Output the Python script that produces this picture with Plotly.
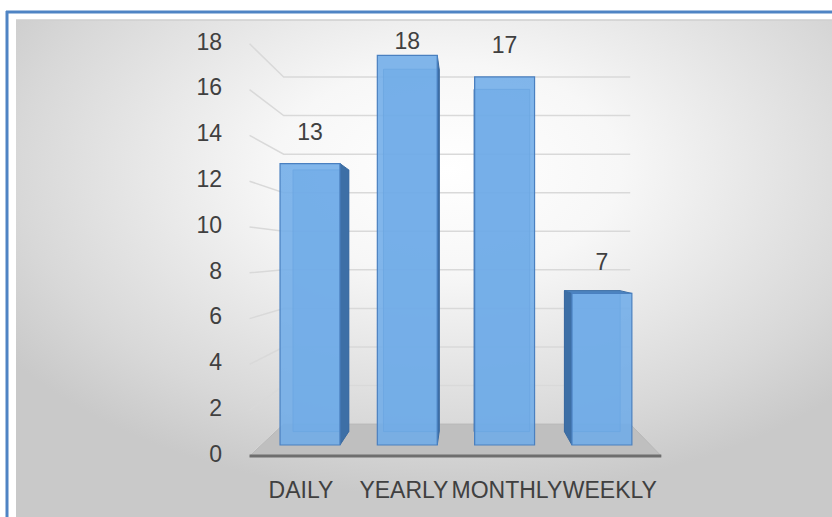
import base64
import plotly.graph_objects as go

# ---------------- data ----------------
categories = ["DAILY", "YEARLY", "MONTHLY", "WEEKLY"]
values = [13, 18, 17, 7]
tick_values = [0, 2, 4, 6, 8, 10, 12, 14, 16, 18]

# ---------------- geometry (style / layout constants) ----------------
W, H = 832, 517
X0, DX = 310.0, 97.3      # px of category 0 on the bar plane, px per category
Y0, DY = 445.0, 21.65     # px of value 0 on the bar plane, px per unit
VPX, VPY = 1.593, 8.82    # perspective centre (data units)
SF, SB, SBB = 1.058, 0.8905, 0.93   # front plane, back wall, bar back face scales
HW = 0.308                # half bar width (category units)
FONT = "Liberation Sans"
TXT = "#404040"


def proj(x, y, s):
    return VPX + (x - VPX) * s, VPY + (y - VPY) * s


xr = [-X0 / DX, (W - X0) / DX]
yr = [(Y0 - H) / DY, Y0 / DY]

fig = go.Figure()

# back wall gridlines with slanted connectors
gx, gy = [], []
for v in tick_values:
    for (x, s) in [(-0.5, SF), (-0.5, SB), (len(categories) - 0.5, SB)]:
        px_, py_ = proj(x, v, s)
        gx.append(px_)
        gy.append(py_)
    gx.append(None)
    gy.append(None)
fig.add_trace(go.Scatter(x=gx, y=gy, mode="lines", line=dict(color="#d9d9d9", width=1.5),
                         hoverinfo="skip", showlegend=False))

# floor
left, right = -0.5, len(categories) - 0.5
fl = [proj(left, 0, SF), proj(right, 0, SF), proj(right, 0, SB), proj(left, 0, SB), proj(left, 0, SF)]
fig.add_trace(go.Scatter(x=[p[0] for p in fl], y=[p[1] for p in fl], mode="lines", fill="toself",
                         fillcolor="#bfbfbf", line=dict(color="#b8b8b8", width=1),
                         hoverinfo="skip", showlegend=False))
fe = [proj(left, 0, SF), proj(right, 0, SF)]
fig.add_trace(go.Scatter(x=[p[0] for p in fe], y=[p[1] for p in fe], mode="lines",
                         line=dict(color="#6e6e6e", width=3), hoverinfo="skip", showlegend=False))

# bar back faces, side faces and top faces
for i, v in enumerate(values):
    bk = [proj(i - HW, 0, SBB), proj(i - HW, v, SBB), proj(i + HW, v, SBB), proj(i + HW, 0, SBB),
          proj(i - HW, 0, SBB)]
    fig.add_trace(go.Scatter(x=[p[0] for p in bk], y=[p[1] for p in bk], mode="lines",
                             fill="toself", fillcolor="rgba(100,160,220,0.6)",
                             line=dict(color="rgba(60,110,170,0.7)", width=1),
                             hoverinfo="skip", showlegend=False))
    ex = i + HW if i < VPX else i - HW
    sd = [(ex, 0), (ex, v), proj(ex, v, SBB), proj(ex, 0, SBB), (ex, 0)]
    fig.add_trace(go.Scatter(x=[p[0] for p in sd], y=[p[1] for p in sd], mode="lines",
                             fill="toself", fillcolor="#3d6fa6", line=dict(color="#3a6aa0", width=1),
                             hoverinfo="skip", showlegend=False))
    if v < VPY:
        tp = [(i - HW, v), (i + HW, v), proj(i + HW, v, SBB), proj(i - HW, v, SBB), (i - HW, v)]
        fig.add_trace(go.Scatter(x=[p[0] for p in tp], y=[p[1] for p in tp], mode="lines",
                                 fill="toself", fillcolor="#4f86c2", line=dict(color="#3d6fa6", width=1),
                                 hoverinfo="skip", showlegend=False))

# front faces of the bars
fig.add_trace(go.Bar(x=list(range(len(categories))), y=values, width=2 * HW,
                     marker=dict(color="rgba(112,172,232,0.88)", line=dict(color="#4a80c0", width=1.2)),
                     xaxis="x2", yaxis="y2", hoverinfo="skip", showlegend=False))

# value labels
cap = (Y0 - 43) / DY
lab_y = [min(v + 1.36, cap) for v in values]
fig.add_trace(go.Scatter(x=list(range(len(categories))), y=lab_y, mode="text",
                         text=[str(v) for v in values], textposition="middle center",
                         textfont=dict(family=FONT, size=23, color=TXT), cliponaxis=False,
                         xaxis="x2", yaxis="y2", hoverinfo="skip", showlegend=False))

# y tick labels (front plane)
tx = (222 - X0) / DX
fig.add_trace(go.Scatter(x=[tx] * len(tick_values), y=[proj(0, v, SF)[1] for v in tick_values],
                         mode="text", text=[str(v) for v in tick_values], textposition="middle left",
                         textfont=dict(family=FONT, size=23, color=TXT), cliponaxis=False,
                         xaxis="x2", yaxis="y2", hoverinfo="skip", showlegend=False))

# category labels (front plane)
cy = (Y0 - 492) / DY
fig.add_trace(go.Scatter(x=[proj(i, 0, SF)[0] for i in range(len(categories))], y=[cy] * len(categories),
                         mode="text", text=categories, textposition="middle center",
                         textfont=dict(family=FONT, size=23, color=TXT), cliponaxis=False,
                         xaxis="x2", yaxis="y2", hoverinfo="skip", showlegend=False))

# background panel gradient
svg = ('<svg xmlns="http://www.w3.org/2000/svg" width="816" height="497" viewBox="0 0 816 497" '
       'preserveAspectRatio="none"><defs><radialGradient id="g" cx="0.53" cy="0.3" r="0.66">'
       '<stop offset="0" stop-color="#ffffff"/><stop offset="0.32" stop-color="#f7f7f7"/>'
       '<stop offset="0.8" stop-color="#d8d8d8"/><stop offset="1" stop-color="#c9c9c9"/>'
       '</radialGradient></defs><rect width="816" height="497" fill="url(#g)"/></svg>')
src = "data:image/svg+xml;base64," + base64.b64encode(svg.encode()).decode()

axis_common = dict(visible=False, showgrid=False, zeroline=False, fixedrange=True)
fig.update_layout(
    width=W, height=H, margin=dict(l=0, r=0, t=0, b=0),
    paper_bgcolor="white", plot_bgcolor="rgba(0,0,0,0)",
    xaxis=dict(range=xr, **axis_common), yaxis=dict(range=yr, **axis_common),
    xaxis2=dict(range=xr, overlaying="x", **axis_common),
    yaxis2=dict(range=yr, overlaying="y", **axis_common),
    images=[dict(source=src, xref="paper", yref="paper", x=16 / W, y=1 - 20 / H,
                 sizex=(W - 16) / W, sizey=(H - 20) / H, xanchor="left", yanchor="top",
                 sizing="stretch", layer="below")],
    shapes=[
        dict(type="line", xref="paper", yref="paper", x0=16 / W, x1=1, y0=1 - 20 / H, y1=1 - 20 / H,
             line=dict(color="#cfcfcf", width=1.5)),
        dict(type="line", xref="paper", yref="paper", x0=6 / W, x1=1, y0=1 - 12 / H, y1=1 - 12 / H,
             line=dict(color="#4f84c4", width=3)),
        dict(type="line", xref="paper", yref="paper", x0=7 / W, x1=7 / W, y0=0, y1=1 - 11 / H,
             line=dict(color="#4f84c4", width=3)),
    ],
    showlegend=False,
)

fig.write_html("out.html", config={"displayModeBar": False},
               post_script="document.body.style.margin='0';")
